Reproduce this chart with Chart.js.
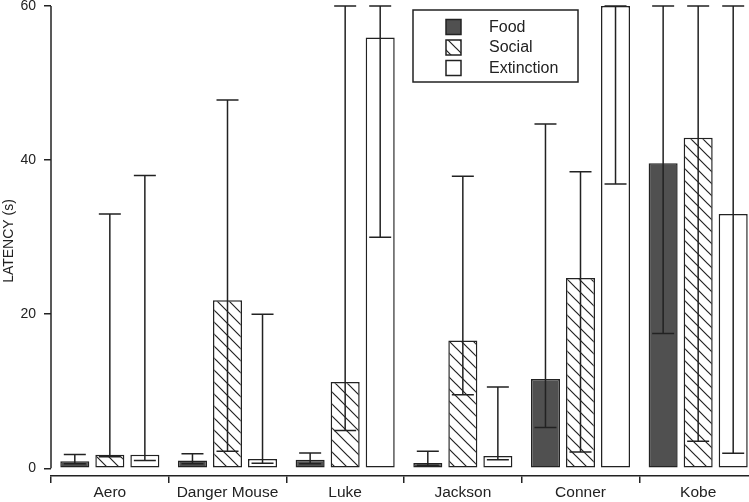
<!DOCTYPE html>
<html><head><meta charset="utf-8">
<script src="https://cdn.jsdelivr.net/npm/chart.js@4.4.1/dist/chart.umd.min.js"></script>
<style>html,body{margin:0;padding:0;overflow:hidden;background:#fff}canvas{display:block}</style>
</head><body>
<canvas id="c" width="758" height="502"></canvas>
<script>
const categories = ['Aero', 'Danger Mouse', 'Luke', 'Jackson', 'Conner', 'Kobe'];
const seriesNames = ['Food', 'Social', 'Extinction'];
const foodValues = [0.9, 1.0, 1.1, 0.7, 11.6, 39.6];
const foodLow    = [0.6, 0.6, 0.6, 0.4, 5.3, 17.5];
const foodHigh   = [1.8, 1.9, 2.0, 2.2, 44.7, 60];
const socialValues = [1.75, 21.8, 11.2, 16.6, 24.7, 42.9];
const socialLow    = [1.5, 2.2, 4.9, 9.55, 2.1, 3.5];
const socialHigh   = [33, 47.8, 60, 37.9, 38.5, 60];
const extValues = [1.75, 1.2, 55.9, 1.6, 60, 33.0];
const extLow    = [1.0, 0.65, 30.0, 1.1, 36.9, 1.95];
const extHigh   = [38, 20.0, 60, 10.55, 60, 60];
const yTickValues = [0, 20, 40, 60];
const yTitle = 'LATENCY (s)';

const INK = '#222';
const FONT = '"Liberation Sans", Arial, sans-serif';
const canvas = document.getElementById('c');
const ctx0 = canvas.getContext('2d');

function makeHatch() {
  const p = document.createElement('canvas');
  p.width = 12; p.height = 12;
  const g = p.getContext('2d');
  g.fillStyle = '#fff'; g.fillRect(0, 0, 12, 12);
  g.strokeStyle = INK; g.lineWidth = 1.2;
  g.beginPath();
  g.moveTo(-2, -2); g.lineTo(14, 14);
  g.moveTo(-2, 10); g.lineTo(2, 14);
  g.moveTo(10, -2); g.lineTo(14, 2);
  g.stroke();
  return ctx0.createPattern(p, 'repeat');
}
const hatch = makeHatch();

const whiskers = {
  id: 'whiskers',
  afterDatasetsDraw(chart) {
    const ctx = chart.ctx, y = chart.scales.y;
    chart.data.datasets.forEach((ds, i) => {
      const meta = chart.getDatasetMeta(i);
      meta.data.forEach((bar, j) => {
        const x = bar.x;
        const yl = y.getPixelForValue(ds.low[j]);
        const yh = y.getPixelForValue(ds.high[j]);
        ctx.save();
        ctx.strokeStyle = INK; ctx.lineWidth = 1.5;
        ctx.beginPath();
        ctx.moveTo(x, yl); ctx.lineTo(x, yh);
        ctx.moveTo(x - 11, yl); ctx.lineTo(x + 11, yl);
        ctx.moveTo(x - 11, yh); ctx.lineTo(x + 11, yh);
        ctx.stroke();
        ctx.restore();
      });
    });
  }
};

const yLine = {
  id: 'yLine',
  afterDraw(chart) {
    const ctx = chart.ctx, y = chart.scales.y, x = chart.chartArea.left;
    ctx.save();
    ctx.strokeStyle = INK; ctx.lineWidth = 1.5;
    ctx.beginPath();
    ctx.moveTo(x, y.getPixelForValue(yTickValues[0]));
    ctx.lineTo(x, y.getPixelForValue(yTickValues[yTickValues.length - 1]));
    ctx.stroke();
    ctx.restore();
  }
};

const boxLegend = {
  id: 'boxLegend',
  afterDraw(chart) {
    const ctx = chart.ctx;
    const bx = 413, by = 10, bw = 165, bh = 72;
    ctx.save();
    ctx.fillStyle = '#fff';
    ctx.fillRect(bx, by, bw, bh);
    ctx.strokeStyle = INK; ctx.lineWidth = 1.5;
    ctx.strokeRect(bx, by, bw, bh);
    ctx.font = '16px ' + FONT;
    ctx.textBaseline = 'middle';
    ctx.textAlign = 'left';
    chart.data.datasets.forEach((ds, i) => {
      const cy = 27 + i * 20.5;
      ctx.fillStyle = ds.backgroundColor;
      ctx.fillRect(446, cy - 7.5, 15, 15);
      ctx.lineWidth = 1.5; ctx.strokeStyle = INK;
      ctx.strokeRect(446, cy - 7.5, 15, 15);
      ctx.fillStyle = INK;
      ctx.fillText(ds.label, 489, cy + 0.5);
    });
    ctx.restore();
  }
};

const common = { borderColor: INK, borderWidth: 1.5, borderSkipped: false,
  categoryPercentage: 0.893, barPercentage: 0.829 };

new Chart(canvas, {
  type: 'bar',
  data: {
    labels: categories,
    datasets: [
      Object.assign({ label: seriesNames[0], data: foodValues, low: foodLow, high: foodHigh, backgroundColor: '#505050' }, common),
      Object.assign({ label: seriesNames[1], data: socialValues, low: socialLow, high: socialHigh, backgroundColor: hatch }, common),
      Object.assign({ label: seriesNames[2], data: extValues, low: extLow, high: extHigh, backgroundColor: '#ffffff' }, common)
    ]
  },
  options: {
    responsive: false,
    animation: false,
    devicePixelRatio: 1,
    layout: { padding: { top: 6, right: 1, bottom: 0, left: 0 } },
    plugins: { legend: { display: false }, tooltip: { enabled: false } },
    scales: {
      x: {
        offset: true,
        grid: { offset: true, display: true, drawOnChartArea: false, drawTicks: true, tickLength: 7, color: INK, lineWidth: 1.5 },
        border: { display: true, color: INK, width: 1.5 },
        ticks: { color: INK, padding: 0, font: { family: FONT, size: 15.5 }, maxRotation: 0, autoSkip: false },
        afterFit(s) { s.height = 26; s.paddingLeft = 0; s.paddingRight = 0; }
      },
      y: {
        min: -1, max: 60,
        afterBuildTicks(s) { s.ticks = yTickValues.map(v => ({ value: v })); },
        grid: { display: true, drawOnChartArea: false, drawTicks: true, tickLength: 7, color: INK, lineWidth: 1.5 },
        border: { display: false },
        ticks: { color: INK, padding: 8, font: { family: FONT, size: 14 } },
        title: { display: true, text: yTitle, color: INK, padding: { top: 1, bottom: 0 }, font: { family: FONT, size: 14 } },
        afterFit(s) { s.width = 51; s.paddingTop = 0; s.paddingBottom = 0; }
      }
    }
  },
  plugins: [whiskers, yLine, boxLegend]
});
</script>
</body></html>
